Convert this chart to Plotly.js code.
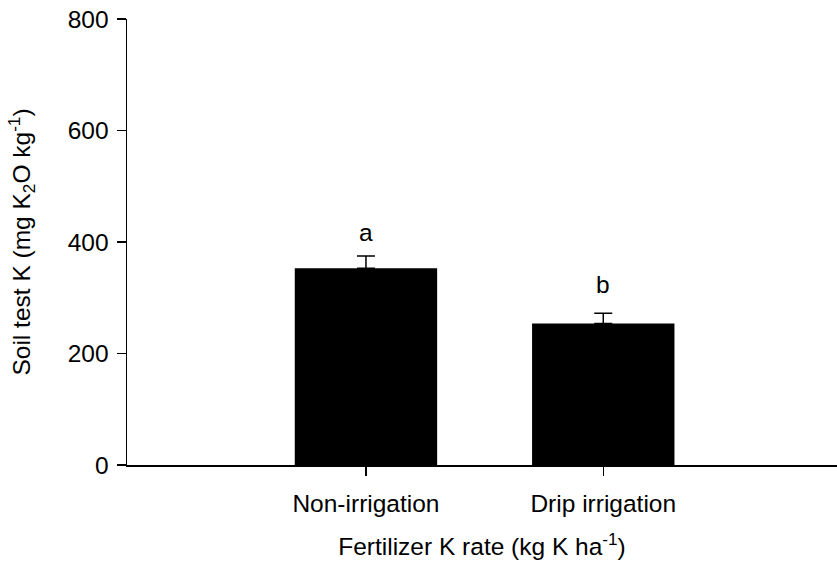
<!DOCTYPE html>
<html>
<head>
<meta charset="utf-8">
<script src="https://cdn.plot.ly/plotly-3.0.1.min.js"></script>
<style>html,body{margin:0;padding:0;background:#fff;}#chart{width:837px;height:567px;}</style>
</head>
<body>
<div id="chart"></div>
<script>
const categories = ["Non-irrigation", "Drip irrigation"];
const soilK = [353, 254];
const soilKErr = [22, 18];
const letters = ["a", "b"];
const letterY = [389, 296];
const yTicks = [0, 200, 400, 600, 800];

const xPos = categories.map((c, i) => i);
const FONT = "Arial, 'Liberation Sans', sans-serif";
const FS = 24.5;

const trace = {
  type: "bar",
  x: xPos,
  y: soilK,
  width: 0.6,
  marker: {color: "#000000", line: {width: 0}},
  error_y: {type: "data", array: soilKErr, arrayminus: soilKErr.map(() => 0), symmetric: false,
            color: "#000000", thickness: 1.5, width: 9},
  hoverinfo: "none"
};

const layout = {
  width: 837, height: 567,
  margin: {l: 127, r: 0, t: 19, b: 102, pad: 0},
  paper_bgcolor: "#ffffff", plot_bgcolor: "#ffffff",
  showlegend: false,
  font: {family: FONT, size: FS, color: "#000000"},
  xaxis: {
    range: [-1.007, 1.985],
    tickmode: "array", tickvals: xPos, ticktext: categories,
    showline: true, linecolor: "#000000", linewidth: 1.5,
    ticks: "outside", ticklen: 9, tickwidth: 1.5, tickcolor: "#000000",
    ticklabelstandoff: 7,
    showgrid: false, zeroline: false,
    tickfont: {family: FONT, size: FS},
    title: {text: "Fertilizer K rate (kg K ha<sup>-1</sup>)", font: {family: FONT, size: FS}, standoff: 22}
  },
  yaxis: {
    range: [0, 800],
    tickmode: "array", tickvals: yTicks, ticktext: yTicks.map(String),
    showline: true, linecolor: "#000000", linewidth: 1.5,
    ticks: "outside", ticklen: 9, tickwidth: 1.5, tickcolor: "#000000",
    ticklabelstandoff: 3,
    showgrid: false, zeroline: false,
    tickfont: {family: FONT, size: FS},
    title: {text: "Soil test K (mg K<sub>2</sub>O kg<sup>-1</sup>)", font: {family: FONT, size: FS}, standoff: 30}
  },
  annotations: letters.map((t, i) => ({
    x: xPos[i], y: letterY[i], xref: "x", yref: "y", text: t, showarrow: false,
    yanchor: "bottom", font: {family: FONT, size: FS, color: "#000000"}
  }))
};

Plotly.newPlot("chart", [trace], layout, {displayModeBar: false, staticPlot: true});
</script>
</body>
</html>
